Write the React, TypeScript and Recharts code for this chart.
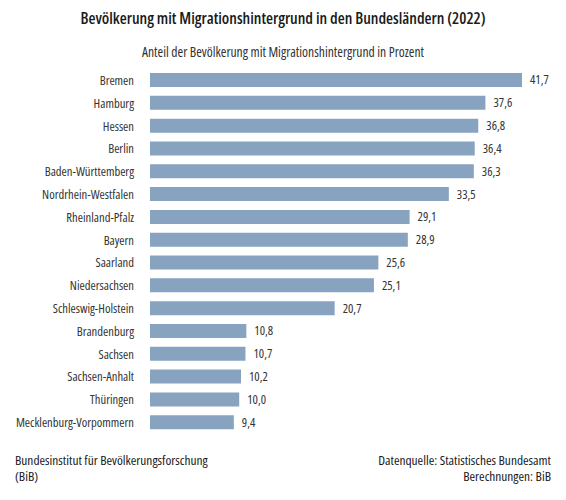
import { BarChart, Bar, XAxis, YAxis, LabelList } from 'recharts';

const states = [
  'Bremen',
  'Hamburg',
  'Hessen',
  'Berlin',
  'Baden-Württemberg',
  'Nordrhein-Westfalen',
  'Rheinland-Pfalz',
  'Bayern',
  'Saarland',
  'Niedersachsen',
  'Schleswig-Holstein',
  'Brandenburg',
  'Sachsen',
  'Sachsen-Anhalt',
  'Thüringen',
  'Mecklenburg-Vorpommern',
];

const shares = [41.7, 37.6, 36.8, 36.4, 36.3, 33.5, 29.1, 28.9, 25.6, 25.1, 20.7, 10.8, 10.7, 10.2, 10.0, 9.4];

const title = 'Bevölkerung mit Migrationshintergrund in den Bundesländern (2022)';
const subtitle = 'Anteil der Bevölkerung mit Migrationshintergrund in Prozent';
const footerLeft = ['Bundesinstitut für Bevölkerungsforschung', '(BiB)'];
const footerRight = ['Datenquelle: Statistisches Bundesamt', 'Berechnungen: BiB'];

const chartData = states.map((name, i) => ({ name, value: shares[i] }));

const font = '"Open Sans", sans-serif';
const stretch = '75%';
const textColor = '#333333';

const fmt = (v: any) => Number(v).toFixed(1).replace('.', ',');

export default function App() {
  return (
    <div style={{ position: 'relative', width: 566, height: 500, margin: -8, background: '#fff', fontFamily: font, fontStretch: stretch, color: textColor }}>
      <div style={{ position: 'absolute', top: 7, left: 0, width: 566, textAlign: 'center', fontSize: 16, fontWeight: 600, color: '#1a1a1a' }}>
        {title}
      </div>
      <div style={{ position: 'absolute', top: 42, left: 0, width: 566, textAlign: 'center', fontSize: 13.6, color: textColor }}>
        {subtitle}
      </div>
      <div style={{ position: 'absolute', top: 0, left: 0 }}>
        <BarChart
          width={566}
          height={500}
          data={chartData}
          layout="vertical"
          margin={{ top: 69, right: 44, bottom: 66, left: 0 }}
          barSize={14}
        >
          <XAxis type="number" hide domain={[0, 'dataMax']} />
          <YAxis
            type="category"
            dataKey="name"
            width={150}
            axisLine={false}
            tickLine={false}
            tickMargin={10}
            interval={0}
            tick={{ fontSize: 12.6, fill: textColor, fontFamily: font, style: { fontStretch: stretch } }}
          />
          <Bar dataKey="value" fill="#87a3bf" isAnimationActive={false}>
            <LabelList
              dataKey="value"
              position="right"
              offset={8}
              formatter={fmt}
              style={{ fontSize: 12.6, fill: textColor, fontFamily: font, fontStretch: stretch }}
            />
          </Bar>
        </BarChart>
      </div>
      <div style={{ position: 'absolute', top: 452, left: 15, fontSize: 13.4, lineHeight: '16px', color: '#1a1a1a' }}>
        {footerLeft.map((t) => (
          <div key={t}>{t}</div>
        ))}
      </div>
      <div style={{ position: 'absolute', top: 452, right: 15, fontSize: 13.4, lineHeight: '16px', textAlign: 'right', color: '#1a1a1a' }}>
        {footerRight.map((t) => (
          <div key={t}>{t}</div>
        ))}
      </div>
    </div>
  );
}
